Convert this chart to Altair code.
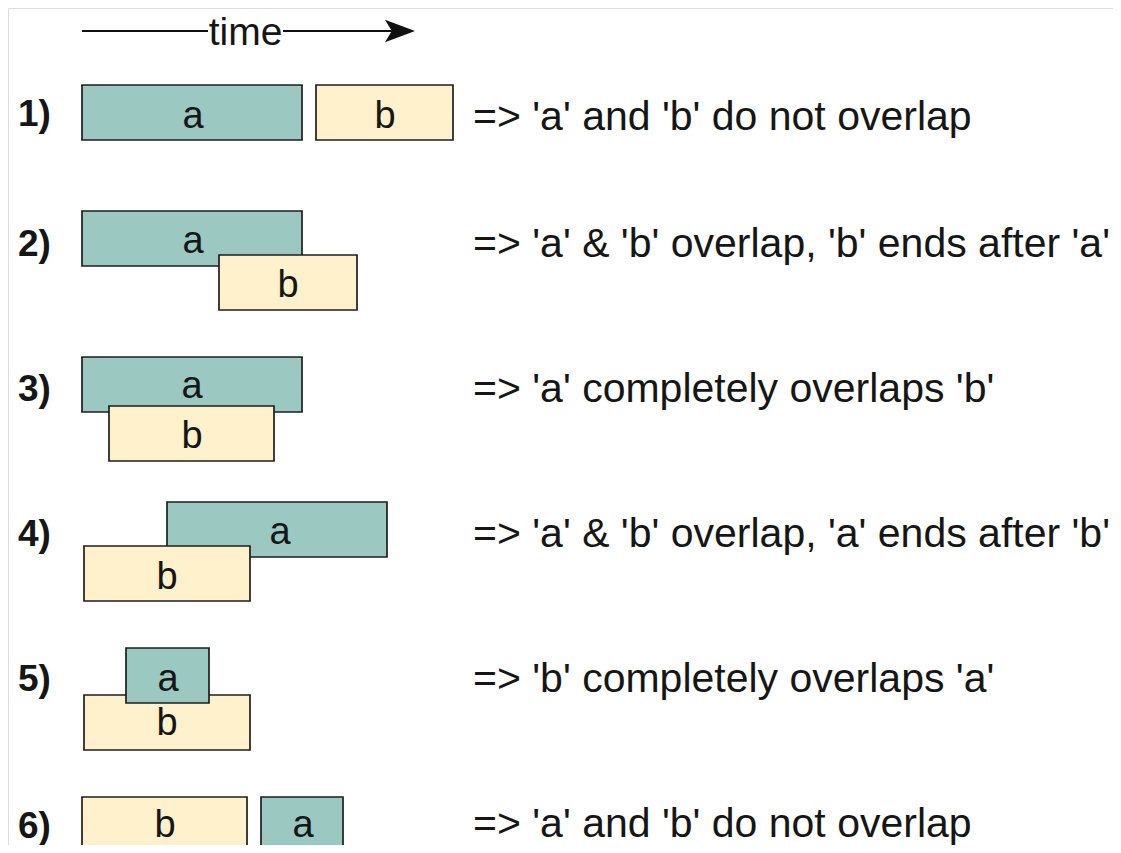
import altair as alt
import pandas as pd

# Interval diagram data (units: horizontal time position / vertical lane position)
bar_case = [1, 1, 2, 2, 3, 3, 4, 4, 5, 5, 6, 6]
bar_name = ["a", "b", "a", "b", "a", "b", "a", "b", "b", "a", "b", "a"]
bar_start = [82, 316, 82, 219, 82, 109, 167, 84, 84, 126, 82, 261]
bar_end = [302, 453, 302, 357, 302, 274, 387, 250, 250, 209, 247, 343]
bar_top = [85, 85, 211, 255, 357, 406, 502, 546, 695, 648, 797, 797]
bar_bottom = [140, 140, 266, 310, 412, 461, 557, 601, 750, 703, 852, 852]

lbl_name = ["a", "b", "a", "b", "a", "b", "a", "b", "a", "b", "b", "a"]
lbl_x = [193, 385, 193, 288, 192, 192, 280, 167, 168, 167, 165, 303]
lbl_y = [117, 117, 242, 286, 387, 437, 533, 578, 680, 724, 826, 826]

case_labels = ["1)", "2)", "3)", "4)", "5)", "6)"]
case_y = [115, 245, 390, 535, 680, 827]
desc_texts = [
    "=> 'a' and 'b' do not overlap",
    "=> 'a' & 'b' overlap, 'b' ends after 'a'",
    "=> 'a' completely overlaps 'b'",
    "=> 'a' & 'b' overlap, 'a' ends after 'b'",
    "=> 'b' completely overlaps 'a'",
    "=> 'a' and 'b' do not overlap",
]
desc_y = [118, 245, 390, 535, 680, 825]

time_label = "time"
arrow_segments_start = [82, 283]
arrow_segments_end = [208, 396]
arrow_y = 31

W, H = 1105, 837
xs = alt.Scale(domain=[8, 8 + W], nice=False, zero=False)
ys = alt.Scale(domain=[8, 8 + H], nice=False, zero=False, reverse=True)
FONT = "Liberation Sans"
INK = "#161616"

bars = pd.DataFrame({"case": bar_case, "name": bar_name, "x0": bar_start, "x1": bar_end,
                     "y0": bar_top, "y1": bar_bottom, "ord": list(range(len(bar_case)))})
labels = pd.DataFrame({"name": lbl_name, "x": lbl_x, "y": lbl_y})
cases = pd.DataFrame({"t": case_labels, "y": case_y})
descs = pd.DataFrame({"t": desc_texts, "y": desc_y})
segs = pd.DataFrame({"x0": arrow_segments_start, "x1": arrow_segments_end})

rects = alt.Chart(bars).mark_rect(stroke="#1e1e1e", strokeWidth=1.7).encode(
    x=alt.X("x0:Q", scale=xs, axis=None),
    x2="x1:Q",
    y=alt.Y("y0:Q", scale=ys, axis=None),
    y2="y1:Q",
    color=alt.Color("name:N", scale=alt.Scale(domain=["a", "b"], range=["#9BC8C0", "#FFF1CC"]), legend=None),
    order="ord:Q",
)

bar_text = alt.Chart(labels).mark_text(fontSize=38, font=FONT, color=INK, baseline="middle").encode(
    x=alt.X("x:Q", scale=xs, axis=None), y=alt.Y("y:Q", scale=ys, axis=None), text="name:N")

case_text = alt.Chart(cases).mark_text(fontSize=37, font=FONT, fontWeight="bold", color=INK,
                                       align="left", baseline="middle").encode(
    x=alt.value(10), y=alt.Y("y:Q", scale=ys, axis=None), text="t:N")

desc_text = alt.Chart(descs).mark_text(fontSize=41, font=FONT, color=INK,
                                       align="left", baseline="middle").encode(
    x=alt.value(465), y=alt.Y("y:Q", scale=ys, axis=None), text="t:N")

arrow_lines = alt.Chart(segs).mark_rule(color="#111", strokeWidth=2).encode(
    x=alt.X("x0:Q", scale=xs, axis=None), x2="x1:Q", y=alt.Y("yy:Q", scale=ys, axis=None)
).transform_calculate(yy=str(arrow_y))

head = alt.Chart(pd.DataFrame({"x": [400], "y": [arrow_y]})).mark_point(
    shape="M-1,-0.75L1,0L-1,0.75L-0.55,0Z", filled=True, color="#111", size=900, opacity=1).encode(
    x=alt.X("x:Q", scale=xs, axis=None), y=alt.Y("y:Q", scale=ys, axis=None))

time_txt = alt.Chart(pd.DataFrame({"x": [245.5], "y": [arrow_y + 2], "t": [time_label]})).mark_text(
    fontSize=39, font=FONT, color=INK, baseline="middle").encode(
    x=alt.X("x:Q", scale=xs, axis=None), y=alt.Y("y:Q", scale=ys, axis=None), text="t:N")

chart = alt.layer(rects, bar_text, case_text, desc_text, arrow_lines, head, time_txt).properties(
    width=W, height=H, padding=0, autosize=alt.AutoSizeParams(type="none")
).configure_view(strokeWidth=0, stroke="transparent").configure(background="white")

chart.save("out.html", embed_options={"renderer": "svg", "actions": False})
